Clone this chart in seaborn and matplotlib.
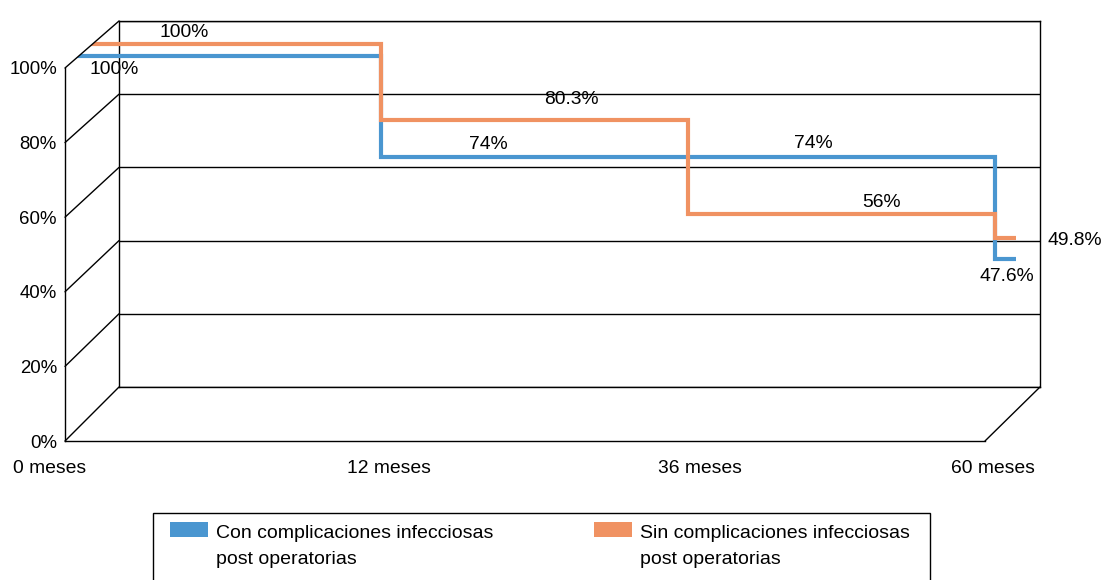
import matplotlib
matplotlib.use("Agg")
import matplotlib.pyplot as plt
from matplotlib import font_manager
from matplotlib.lines import Line2D
from matplotlib.patches import Patch, Rectangle
from matplotlib.path import Path
from matplotlib.transforms import IdentityTransform, ScaledTranslation
import pandas as pd
import seaborn as sns

# ---- data -----------------------------------------------------------------
periodos = ["0 meses", "12 meses", "36 meses", "60 meses"]
con_complicaciones = [100, 74, 74, 47.6]
sin_complicaciones = [100, 80.3, 56, 49.8]
serie_con = "Con complicaciones infecciosas\npost operatorias"
serie_sin = "Sin complicaciones infecciosas\npost operatorias"
y_ticks = [0, 20, 40, 60, 80, 100]

# ---- style ----------------------------------------------------------------
COLOR_CON = "#4A96D0"
COLOR_SIN = "#F09262"
EDGE = "#000000"

sns.set_theme(style="white")
_names = {f.name for f in font_manager.fontManager.ttflist}
if "Liberation Sans Narrow" in _names:
    plt.rcParams["font.family"] = ["Liberation Sans Narrow", "DejaVu Sans"]
    FS = 1.0
else:
    plt.rcParams["font.family"] = ["Liberation Sans", "DejaVu Sans"]
    FS = 0.84
plt.rcParams["text.color"] = "black"

W, H = 1103, 580
fig = plt.figure(figsize=(W / 100, H / 100), dpi=100)
fig.patch.set_facecolor("white")


def px_axes(left, top, right, bottom):
    """Axes placed by pixel edges (origin at top-left of the canvas)."""
    return fig.add_axes([left / W, 1 - bottom / H, (right - left) / W, (bottom - top) / H])


def px_fig(x, y):
    """Pixel position (top-left origin) to figure fraction."""
    return x / W, 1 - y / H


# back wall with horizontal gridlines
back = px_axes(119, 21, 1040, 387)
back.set_xlim(0, 1)
back.set_ylim(0, 100)
back.set_facecolor("none")
back.set_xticks([])
back.set_yticks(y_ticks)
back.tick_params(left=False, labelleft=False)
back.yaxis.grid(True, color=EDGE, lw=1.0)
for s in back.spines.values():
    s.set_color(EDGE)
    s.set_linewidth(1.0)

# front plane: value axis and category floor edge
front = px_axes(65, 68, 985, 441)
front.set_xlim(0, 1)
front.set_ylim(0, 100)
front.set_facecolor("none")
front.set_xticks([])
front.set_yticks(y_ticks, labels=[f"{v}%" for v in y_ticks])
front.tick_params(axis="y", length=0, pad=5.8, labelsize=16 * FS, labelcolor="black")
front.spines["top"].set_visible(False)
front.spines["right"].set_visible(False)
for side in ("left", "bottom"):
    front.spines[side].set_color(EDGE)
    front.spines[side].set_linewidth(1.0)

# depth edges joining the front plane to the back wall
to_fig = fig.transFigure.inverted()


def depth_edge(p_front, p_back):
    a = to_fig.transform(p_front)
    b = to_fig.transform(p_back)
    fig.add_artist(Line2D([a[0], b[0]], [a[1], b[1]], color=EDGE, lw=1.0))


for v in y_ticks:
    depth_edge(front.transData.transform((0, v)), back.transData.transform((0, v)))
depth_edge(front.transData.transform((1, 0)), back.transData.transform((1, 0)))

# ---- survival steps -------------------------------------------------------
X0, XSTEP = 74, 307        # pixel of the first period and spacing between periods
Y0, YSTEP = 443.4, 3.874   # pixel of 0 % and pixels per percent
XLIM = (-0.2, 3.2)
YLIM = (0, 110)
sx = px_axes(X0 + XLIM[0] * XSTEP, Y0 - YLIM[1] * YSTEP,
             X0 + XLIM[1] * XSTEP, Y0 - YLIM[0] * YSTEP)
sx.set_xlim(*XLIM)
sx.set_ylim(*YLIM)
sx.set_facecolor("none")
for s in sx.spines.values():
    s.set_visible(False)

STUB = 0.07      # short run after the last period
SIN_SHIFT = 12   # the second series sits deeper in the box (pixels up)


def step_frame(values, name):
    pos = list(range(len(values))) + [len(values) - 1 + STUB]
    return pd.DataFrame({"pos": pos, "valor": list(values) + [values[-1]], "serie": name})


df = pd.concat([step_frame(con_complicaciones, serie_con),
                step_frame(sin_complicaciones, serie_sin)], ignore_index=True)
sns.lineplot(data=df, x="pos", y="valor", hue="serie",
             palette={serie_con: COLOR_CON, serie_sin: COLOR_SIN},
             drawstyle="steps-post", lw=3.0, estimator=None, sort=False,
             legend=False, ax=sx)
sx.set_xlabel("")
sx.set_ylabel("")
line_con, line_sin = sx.lines[0], sx.lines[1]
line_con.set_zorder(2)
line_sin.set_zorder(3)
line_sin.set_transform(sx.transData + ScaledTranslation(0, SIN_SHIFT / 100, fig.dpi_scale_trans))

# the lines begin at the left side wall
A = front.transAxes.transform((0, 1))
B = back.transAxes.transform((0, 1))
C = B + (B - A) * 3
wall = Path([(A[0], -2000), tuple(A), tuple(C), (5000, C[1]), (5000, -2000), (A[0], -2000)], closed=True)
for ln in (line_con, line_sin):
    ln.set_solid_capstyle("butt")
    ln.set_solid_joinstyle("miter")
    ln.set_clip_path(wall, IdentityTransform())

sx.set_xticks([-0.078, 1.026, 2.039, 2.993], labels=periodos)
sx.set_yticks([])
sx.tick_params(axis="x", length=0, pad=12, labelsize=16.5 * FS, labelcolor="black")

# value labels: (offset along the period, pixels above the line, alignment)
LAB_CON = [(0.13, -14, "center"), (0.35, 12, "center"), (0.41, 13, "center"), (0.04, -18, "center")]
LAB_SIN = [(0.36, 11.5, "center"), (0.62, 21, "center"), (0.63, 12, "center"), (0.17, -2, "left")]


def value_labels(values, layout, shift):
    for i, (v, (dx, dy, ha)) in enumerate(zip(values, layout)):
        sx.annotate(f"{v:g}%", xy=(i + dx, v), xytext=(0, dy + shift),
                    textcoords="offset pixels", ha=ha, va="center",
                    fontsize=16.5 * FS, color="black", zorder=2.5)


value_labels(con_complicaciones, LAB_CON, 0)
value_labels(sin_complicaciones, LAB_SIN, SIN_SHIFT)

# ---- legend ---------------------------------------------------------------
LEG_PT = 16.7 * FS
leg_px = LEG_PT * 100 / 72
handles = [Patch(facecolor=COLOR_CON, edgecolor="none", label=serie_con),
           Patch(facecolor=COLOR_SIN, edgecolor="none", label=serie_sin)]
leg = fig.legend(handles=handles, loc="upper left", bbox_to_anchor=px_fig(170, 521.5),
                 ncol=2, frameon=False, fontsize=LEG_PT,
                 handlelength=38 / leg_px, handleheight=17 / leg_px,
                 handletextpad=8 / leg_px, columnspacing=101 / leg_px,
                 borderpad=0, borderaxespad=0)
for txt in leg.get_texts():
    txt.set_linespacing(1.75)
    txt.set_y(-3)
for column in leg._legend_handle_box.get_children():
    for entry in column.get_children():
        entry.align = "top"

# legend box, running past the lower edge of the canvas
x0, y0 = px_fig(153, 513)
x1, y1 = px_fig(930, 600)
fig.add_artist(Rectangle((x0, y1), x1 - x0, y0 - y1, transform=fig.transFigure,
                         facecolor="none", edgecolor=EDGE, lw=1.0, clip_on=False))

fig.savefig("out.png", dpi=100)
